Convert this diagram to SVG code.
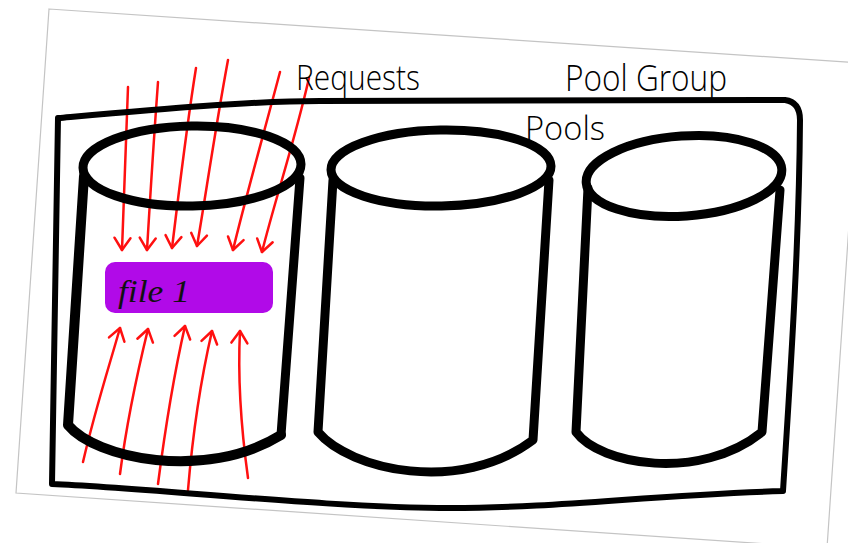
<svg xmlns="http://www.w3.org/2000/svg" width="848" height="543" viewBox="0 0 848 543">
  <defs>
    <style>
      .ink { fill: none; stroke: #000; stroke-linecap: round; stroke-linejoin: round; }
      .thick { stroke-width: 9; }
      .box { stroke-width: 6; }
      .req { fill: none; stroke: #ff1010; stroke-width: 2.5; stroke-linecap: round; marker-end: url(#head); }
      .lbl { font-family: "Open Sans", "Liberation Sans", sans-serif; font-weight: 300; fill: #000; }
    </style>
    <marker id="head" viewBox="0 0 20 20" refX="16" refY="10" markerWidth="20" markerHeight="20" markerUnits="userSpaceOnUse" orient="auto">
      <path d="M 4 2 L 16 10 L 4 18" fill="none" stroke="#ff1010" stroke-width="2.5" stroke-linecap="round" stroke-linejoin="round"/>
    </marker>
  </defs>

  <rect x="0" y="0" width="848" height="543" fill="#fff"/>
  <!-- paper sheet -->
  <path d="M 49 9 L 860 63 L 827 548 L 16 493 Z" fill="#fff" stroke="#c4c4c4" stroke-width="1.2"/>

  <!-- connectors: request arrows -->
  <g id="connectors">
    <path class="req" d="M 128 87 C 126 150, 124 200, 122 250"/>
    <path class="req" d="M 158 82 C 153 150, 150 200, 147 250"/>
    <path class="req" d="M 196 68 C 186 130, 178 200, 172 248"/>
    <path class="req" d="M 228 60 C 215 130, 205 200, 197 246"/>
    <path class="req" d="M 280 72 C 262 140, 245 200, 233 250"/>
    <path class="req" d="M 309 78 C 295 140, 275 200, 262 252"/>
    <path class="req" d="M 83 462 C 95 410, 108 370, 120 328"/>
    <path class="req" d="M 120 474 C 127 420, 138 370, 148 329"/>
    <path class="req" d="M 158 484 C 165 430, 175 370, 185 326"/>
    <path class="req" d="M 188 490 C 193 430, 203 370, 212 331"/>
    <path class="req" d="M 248 478 C 240 420, 238 370, 240 331"/>
  </g>

  <!-- pool group -->
  <g id="pool-group">
    <path class="ink box" d="M 58 118 C 150 110, 250 101, 320 101 L 785 100 Q 800 102 800 120 C 799 250, 790 380, 783 491 C 650 495, 560 508, 450 508 C 330 508, 150 488, 52 484 L 58 118 Z"/>
    <text class="lbl" x="565" y="91" font-size="36" textLength="162" lengthAdjust="spacingAndGlyphs">Pool Group</text>
    <text class="lbl" x="525" y="140" font-size="33" textLength="80" lengthAdjust="spacingAndGlyphs">Pools</text>
  </g>

  <text class="lbl" x="296" y="90" font-size="34" textLength="124" lengthAdjust="spacingAndGlyphs">Requests</text>

  <!-- pool 1 -->
  <g id="pool-1">
    <ellipse class="ink thick" cx="192" cy="166" rx="109" ry="40" transform="rotate(-1 192 166)"/>
    <path class="ink" stroke-width="10" d="M 84 176 L 68 425 C 95 458, 205 482, 281 435"/>
    <path class="ink thick" d="M 300 178 L 281 435"/>
  </g>

  <!-- pool 2 -->
  <g id="pool-2">
    <ellipse class="ink thick" cx="441" cy="168" rx="110" ry="38" transform="rotate(-1 441 168)"/>
    <path class="ink thick" d="M 333 180 L 318 432 C 350 470, 460 495, 533 440 L 549 180"/>
  </g>

  <!-- pool 3 -->
  <g id="pool-3">
    <ellipse class="ink thick" cx="684" cy="176" rx="98" ry="40" transform="rotate(-4 684 176)"/>
    <path class="ink thick" d="M 588 188 L 576 432 C 600 465, 700 482, 762 432 L 780 190"/>
  </g>

  <!-- file 1 -->
  <g id="file-1">
    <rect x="105" y="262" width="168" height="51" rx="10" fill="#b10ae8"/>
    <text x="118" y="302" font-family="'Liberation Serif', serif" font-style="italic" font-size="32" fill="#111" textLength="72" lengthAdjust="spacingAndGlyphs">file 1</text>
  </g>
</svg>
